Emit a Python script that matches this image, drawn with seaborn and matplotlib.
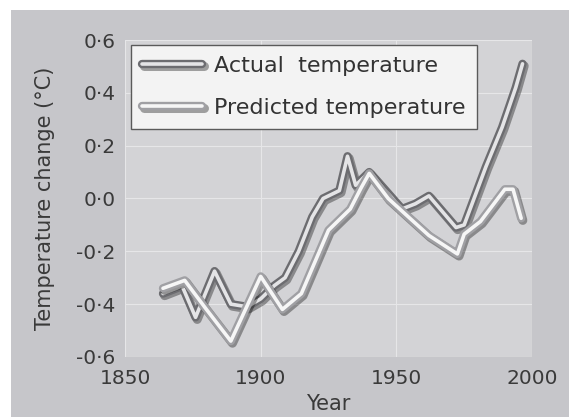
import matplotlib
matplotlib.use('Agg')
import matplotlib.pyplot as plt
import matplotlib.patheffects as pe
from matplotlib.patches import Rectangle
import seaborn as sns
import pandas as pd

# --- data ---
series_names = ['Actual  temperature', 'Predicted temperature']

actual_years = [1864, 1869, 1871, 1876, 1883, 1889, 1895, 1900, 1905, 1909, 1914,
                1919, 1923, 1929, 1932, 1935, 1940, 1946, 1952, 1957, 1962, 1967,
                1972, 1975, 1983, 1989, 1994, 1996.5]
actual_change = [-0.36, -0.34, -0.33, -0.45, -0.275, -0.40, -0.41, -0.38, -0.33, -0.30, -0.20,
                 -0.07, 0.00, 0.03, 0.16, 0.05, 0.10, 0.03, -0.04, -0.02, 0.01, -0.05,
                 -0.11, -0.10, 0.12, 0.27, 0.42, 0.51]

predicted_years = [1864, 1872, 1880, 1889, 1900, 1908, 1915, 1920, 1925, 1929, 1933,
                   1937, 1940, 1947, 1955, 1962, 1971, 1972.5, 1975, 1981, 1990, 1993, 1996]
predicted_change = [-0.34, -0.31, -0.42, -0.54, -0.295, -0.42, -0.36, -0.24, -0.12, -0.08, -0.04,
                    0.04, 0.095, 0.0, -0.075, -0.14, -0.20, -0.21, -0.135, -0.087, 0.035, 0.035, -0.075]

x_ticks = [1850, 1900, 1950, 2000]
y_ticks = [-0.6, -0.4, -0.2, 0.0, 0.2, 0.4, 0.6]
y_tick_labels = ['-0·6', '-0·4', '-0·2', '0·0', '0·2', '0·4', '0·6']

sns.set_theme(style='darkgrid', rc={
    'axes.facecolor': '#d3d3d6',
    'grid.color': '#e6e6e8',
    'grid.linewidth': 0.8,
})
plt.rcParams['font.family'] = ['DejaVu Sans']

df = pd.concat([
    pd.DataFrame({'year': actual_years, 'change': actual_change, 'series': series_names[0]}),
    pd.DataFrame({'year': predicted_years, 'change': predicted_change, 'series': series_names[1]}),
])

fig = plt.figure(figsize=(5.69, 4.17), dpi=100, facecolor='white')
# grey scanned page behind the plot
fig.patches.append(Rectangle((0.019, 0), 0.981, 0.976, transform=fig.transFigure,
                             facecolor='#c6c6ca', edgecolor='none', zorder=-10))
ax = fig.add_axes([0.2197, 0.144, 0.7153, 0.76])

palette = {series_names[0]: '#e4e4e6', series_names[1]: '#f6f6f6'}
outline = {series_names[0]: '#6c6c70', series_names[1]: '#a0a0a4'}
sns.lineplot(data=df, x='year', y='change', hue='series', palette=palette,
             linewidth=2.6, ax=ax)

def tube(col):
    return [pe.SimpleLineShadow(offset=(1.2, -1.5), shadow_color='black', alpha=0.35, linewidth=6.5),
            pe.Stroke(linewidth=6, foreground=col),
            pe.Normal()]

for line, name in zip(ax.lines, series_names):
    line.set_path_effects(tube(outline[name]))
    line.set_solid_capstyle('round')
    line.set_solid_joinstyle('round')

handles, labels = ax.get_legend_handles_labels()
leg = ax.legend(handles, labels, loc='upper left', bbox_to_anchor=(0.015, 0.985),
                borderaxespad=0, fontsize=16, handlelength=2.7, labelspacing=1.0,
                handletextpad=0.55, borderpad=0.5, fancybox=False, framealpha=1,
                facecolor='#f3f3f3', edgecolor='#5a5a5a', labelcolor='#333333')
for h, name in zip(leg.get_lines(), labels):
    h.set_path_effects(tube(outline[name]))
    h.set_linewidth(2.6)

ax.set_xlim(1850, 2000)
ax.set_ylim(-0.6, 0.6)
ax.set_xticks(x_ticks)
ax.set_yticks(y_ticks)
ax.set_yticklabels(y_tick_labels)
ax.tick_params(axis='both', length=0, labelsize=14.5, colors='#3a3a3a')
ax.tick_params(axis='x', pad=9)
ax.tick_params(axis='y', pad=7)
ax.set_xlabel('Year', fontsize=15, color='#3a3a3a', labelpad=4)
ax.set_ylabel('Temperature change (°C)', fontsize=15, color='#3a3a3a', labelpad=15)
for s in ax.spines.values():
    s.set_visible(False)

fig.savefig('out.png', dpi=100, facecolor=fig.get_facecolor())
